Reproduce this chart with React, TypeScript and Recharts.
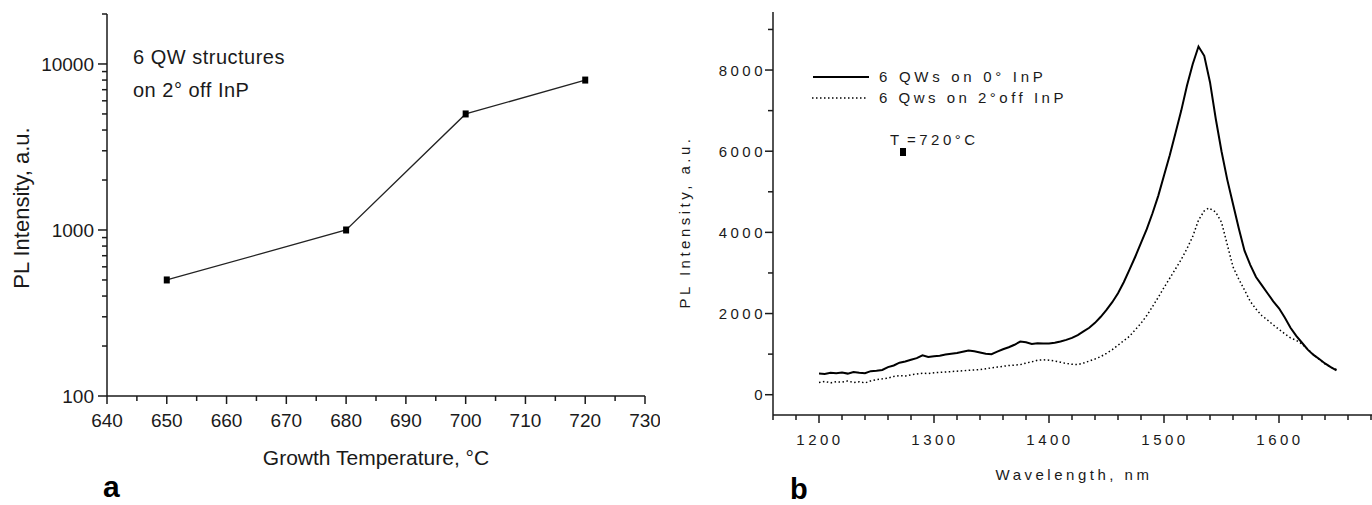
import { Line, LineChart, XAxis, YAxis } from "recharts";

// panel a: PL intensity vs growth temperature (6 QW on 2° off InP)
const growthTemp = [650, 680, 700, 720];
const plVsTemp = [500, 1000, 5000, 8000];
const tempTicks = [640, 645, 650, 655, 660, 665, 670, 675, 680, 685, 690, 695, 700, 705, 710, 715, 720, 725, 730];
const logTicks = [100, 200, 300, 400, 500, 600, 700, 800, 900, 1000, 2000, 3000, 4000, 5000, 6000, 7000, 8000, 9000, 10000, 20000];
const logLabels = [100, 1000, 10000];

// panel b: PL spectra
const wl0 = [1200, 1205, 1210, 1215, 1220, 1225, 1230, 1235, 1240, 1245, 1250, 1255, 1260, 1265, 1270, 1275, 1280, 1285, 1290, 1295, 1300, 1305, 1310, 1315, 1320, 1325, 1330, 1335, 1340, 1345, 1350, 1355, 1360, 1365, 1370, 1375, 1380, 1385, 1390, 1395, 1400, 1405, 1410, 1415, 1420, 1425, 1430, 1435, 1440, 1445, 1450, 1455, 1460, 1465, 1470, 1475, 1480, 1485, 1490, 1495, 1500, 1505, 1510, 1515, 1520, 1525, 1530, 1535, 1540, 1545, 1550, 1555, 1560, 1565, 1570, 1575, 1580, 1585, 1590, 1595, 1600, 1605, 1610, 1615, 1620, 1625, 1630, 1635, 1640, 1645, 1650];
const pl0 = [520, 510, 540, 530, 545, 520, 560, 540, 530, 580, 590, 610, 680, 720, 790, 820, 860, 900, 970, 930, 950, 960, 990, 1010, 1030, 1060, 1090, 1070, 1040, 1010, 1000, 1060, 1120, 1170, 1230, 1310, 1290, 1250, 1270, 1260, 1260, 1280, 1310, 1350, 1400, 1470, 1560, 1650, 1770, 1920, 2090, 2280, 2500, 2770, 3080, 3400, 3740, 4080, 4470, 4900, 5400, 5900, 6450, 7000, 7620, 8150, 8580, 8350, 7700, 6800, 6000, 5300, 4700, 4100, 3550, 3200, 2900, 2700, 2500, 2300, 2130, 1900, 1650, 1450, 1280, 1110, 980, 880, 770, 680, 600];

const wl2 = [1200, 1205, 1210, 1215, 1220, 1225, 1230, 1235, 1240, 1245, 1250, 1255, 1260, 1265, 1270, 1275, 1280, 1285, 1290, 1295, 1300, 1305, 1310, 1315, 1320, 1325, 1330, 1335, 1340, 1345, 1350, 1355, 1360, 1365, 1370, 1375, 1380, 1385, 1390, 1395, 1400, 1405, 1410, 1415, 1420, 1425, 1430, 1435, 1440, 1445, 1450, 1455, 1460, 1465, 1470, 1475, 1480, 1485, 1490, 1495, 1500, 1505, 1510, 1515, 1520, 1525, 1530, 1535, 1539, 1545, 1550, 1555, 1560, 1565, 1570, 1575, 1580, 1585, 1590, 1595, 1600, 1605, 1610, 1615, 1620, 1625, 1630, 1635, 1640, 1645, 1650];
const pl2 = [300, 330, 290, 320, 310, 340, 300, 320, 290, 340, 370, 390, 410, 450, 470, 460, 490, 510, 530, 520, 540, 550, 560, 570, 580, 590, 600, 610, 620, 640, 660, 680, 700, 720, 730, 740, 780, 810, 850, 860, 850, 830, 800, 770, 750, 740, 780, 830, 880, 940, 1020, 1110, 1220, 1330, 1440, 1600, 1760, 1950, 2170, 2400, 2640, 2870, 3100, 3330, 3600, 3900, 4300, 4530, 4600, 4500, 4250, 3700, 3150, 2850, 2580, 2300, 2110, 1950, 1840, 1720, 1610, 1500, 1400, 1340, 1250, 1120, 990, 870, 760, 680, 620];

const wlTicks = [1160, 1180, 1200, 1220, 1240, 1260, 1280, 1300, 1320, 1340, 1360, 1380, 1400, 1420, 1440, 1460, 1480, 1500, 1520, 1540, 1560, 1580, 1600, 1620, 1640, 1660, 1680];
const intTicks = [0, 1000, 2000, 3000, 4000, 5000, 6000, 7000, 8000, 9000];

const FONT = "'Liberation Sans', Arial, sans-serif";
const INK = "#1a1a1a";

const tempData = growthTemp.map((x, i) => ({ x, y: plVsTemp[i] }));
const spec0 = wl0.map((x, i) => ({ x, y: pl0[i] }));
const spec2 = wl2.map((x, i) => ({ x, y: pl2[i] }));

const TempTick = ({ x, y, payload }: any) => {
  const major = payload.value % 10 === 0;
  return (
    <g>
      <line x1={x} x2={x} y1={y} y2={y + (major ? 8 : 5)} stroke={INK} strokeWidth={1.5} />
      {major && (
        <text x={x} y={y + 31} textAnchor="middle" fontSize={19} fontFamily={FONT} fill={INK}>
          {payload.value}
        </text>
      )}
    </g>
  );
};

const LogTick = ({ x, y, payload }: any) => {
  const major = logLabels.includes(payload.value);
  return (
    <g>
      <line x1={x} x2={x - (major ? 9 : 5)} y1={y} y2={y} stroke={INK} strokeWidth={1.5} />
      {major && (
        <text x={x - 13} y={y + 7} textAnchor="end" fontSize={19} fontFamily={FONT} fill={INK}>
          {payload.value}
        </text>
      )}
    </g>
  );
};

const WlTick = ({ x, y, payload }: any) => {
  const major = payload.value % 100 === 0;
  return (
    <g>
      <line x1={x} x2={x} y1={y} y2={y + (major ? 8 : 5)} stroke={INK} strokeWidth={1.5} />
      {major && (
        <text x={x + 1} y={y + 30} textAnchor="middle" fontSize={15} letterSpacing={3.5} fontFamily={FONT} fill={INK}>
          {payload.value}
        </text>
      )}
    </g>
  );
};

const IntTick = ({ x, y, payload }: any) => {
  const major = payload.value % 2000 === 0;
  return (
    <g>
      <line x1={x} x2={x - (major ? 8 : 5)} y1={y} y2={y} stroke={INK} strokeWidth={1.5} />
      {major && (
        <text x={x - 7} y={y + 5.5} textAnchor="end" fontSize={15} letterSpacing={3.5} fontFamily={FONT} fill={INK}>
          {payload.value}
        </text>
      )}
    </g>
  );
};

const squareDot = (p: any) => (
  <rect key={`dot-${p.index}`} x={p.cx - 3} y={p.cy - 3.5} width={6} height={7} fill="#000" />
);

export default function App() {
  return (
    <div
      style={{
        position: "absolute",
        left: 0,
        top: 0,
        width: 1372,
        height: 505,
        overflow: "hidden",
        background: "#fff",
      }}
    >
      <div style={{ position: "absolute", left: 0, top: 0 }}>
        <LineChart width={660} height={505} margin={{ top: 14, right: 15, bottom: 0, left: 0 }}>
          <XAxis
            type="number"
            dataKey="x"
            domain={[640, 730]}
            ticks={tempTicks}
            interval={0}
            height={109}
            tickSize={0}
            tickMargin={0}
            tick={<TempTick />}
            axisLine={{ stroke: INK, strokeWidth: 1.5 }}
            label={(p: any) => (
              <text x={376} y={465} textAnchor="middle" fontSize={21} fontFamily={FONT} fill={INK}>
                Growth Temperature, °C
              </text>
            )}
          />
          <XAxis
            xAxisId="top"
            orientation="top"
            type="number"
            domain={[640, 730]}
            height={0}
            tick={false}
            tickLine={false}
            axisLine={{ stroke: "#333", strokeWidth: 2 }}
          />
          <YAxis
            type="number"
            scale="log"
            domain={[100, 20000]}
            ticks={logTicks}
            interval={0}
            width={107}
            tickSize={0}
            tickMargin={0}
            tick={<LogTick />}
            axisLine={{ stroke: INK, strokeWidth: 1.5 }}
            label={(p: any) => (
              <text
                x={29}
                y={208}
                transform="rotate(-90 29 208)"
                textAnchor="middle"
                fontSize={22}
                fontFamily={FONT}
                fill={INK}
              >
                PL Intensity, a.u.
              </text>
            )}
          />
          <YAxis
            yAxisId="right"
            orientation="right"
            type="number"
            domain={[0, 1]}
            width={0}
            tick={false}
            tickLine={false}
            axisLine={{ stroke: "#333", strokeWidth: 2 }}
          />
          <Line
            data={tempData}
            dataKey="y"
            type="linear"
            stroke="#222"
            strokeWidth={1.3}
            dot={squareDot}
            activeDot={false}
            isAnimationActive={false}
          />
        </LineChart>
      </div>

      <div style={{ position: "absolute", left: 660, top: 0 }}>
        <LineChart width={740} height={505} margin={{ top: 12, right: 6, bottom: 0, left: 0 }}>
          <XAxis
            type="number"
            dataKey="x"
            domain={[1160, 1700]}
            ticks={wlTicks}
            interval={0}
            height={90}
            tickSize={0}
            tickMargin={0}
            tick={<WlTick />}
            axisLine={{ stroke: INK, strokeWidth: 1.5 }}
            label={(p: any) => (
              <text x={414} y={480} textAnchor="middle" fontSize={15} letterSpacing={3.5} fontFamily={FONT} fill={INK}>
                Wavelength, nm
              </text>
            )}
          />
          <XAxis
            xAxisId="top"
            orientation="top"
            type="number"
            domain={[1160, 1700]}
            height={0}
            tick={false}
            tickLine={false}
            axisLine={{ stroke: "#333", strokeWidth: 2 }}
          />
          <YAxis
            type="number"
            domain={[-500, 9430]}
            ticks={intTicks}
            interval={0}
            width={113}
            tickSize={0}
            tickMargin={0}
            tick={<IntTick />}
            axisLine={{ stroke: INK, strokeWidth: 1.5 }}
            label={(p: any) => (
              <text
                x={30}
                y={222}
                transform="rotate(-90 30 222)"
                textAnchor="middle"
                fontSize={15}
                letterSpacing={3.5}
                fontFamily={FONT}
                fill={INK}
              >
                PL Intensity, a.u.
              </text>
            )}
          />
          <Line
            data={spec0}
            dataKey="y"
            type="linear"
            stroke="#000"
            strokeWidth={2}
            dot={false}
            activeDot={false}
            isAnimationActive={false}
          />
          <Line
            data={spec2}
            dataKey="y"
            type="linear"
            stroke="#000"
            strokeWidth={1.5}
            strokeDasharray="1.5 2.5"
            dot={false}
            activeDot={false}
            isAnimationActive={false}
          />
        </LineChart>
      </div>

      <svg
        width={1372}
        height={505}
        style={{ position: "absolute", left: 0, top: 0, pointerEvents: "none" }}
        fontFamily={FONT}
        fill={INK}
      >
        <text x={133} y={64} fontSize={20} letterSpacing={0.5}>6 QW structures</text>
        <text x={133} y={97} fontSize={20} letterSpacing={0.5}>on 2° off InP</text>
        <text x={103} y={497} fontSize={30} fontWeight="bold" fill="#000">a</text>
        <text x={790} y={499} fontSize={29} fontWeight="bold" fill="#000">b</text>

        <line x1={813} x2={869} y1={77} y2={77} stroke="#000" strokeWidth={2} />
        <text x={879} y={82} fontSize={15} letterSpacing={3.7}>6 QWs on 0° InP</text>
        <line x1={812} x2={868} y1={98} y2={98} stroke="#000" strokeWidth={1.5} strokeDasharray="1.5 2.5" />
        <text x={879} y={103} fontSize={15} letterSpacing={3.5}>6 Qws on 2°off InP</text>
        <text x={890} y={145} fontSize={15} letterSpacing={3.5}>T</text>
        <rect x={900} y={148} width={6} height={8} fill="#000" />
        <text x={907} y={145} fontSize={15} letterSpacing={3.5}>=720°C</text>
      </svg>
    </div>
  );
}
